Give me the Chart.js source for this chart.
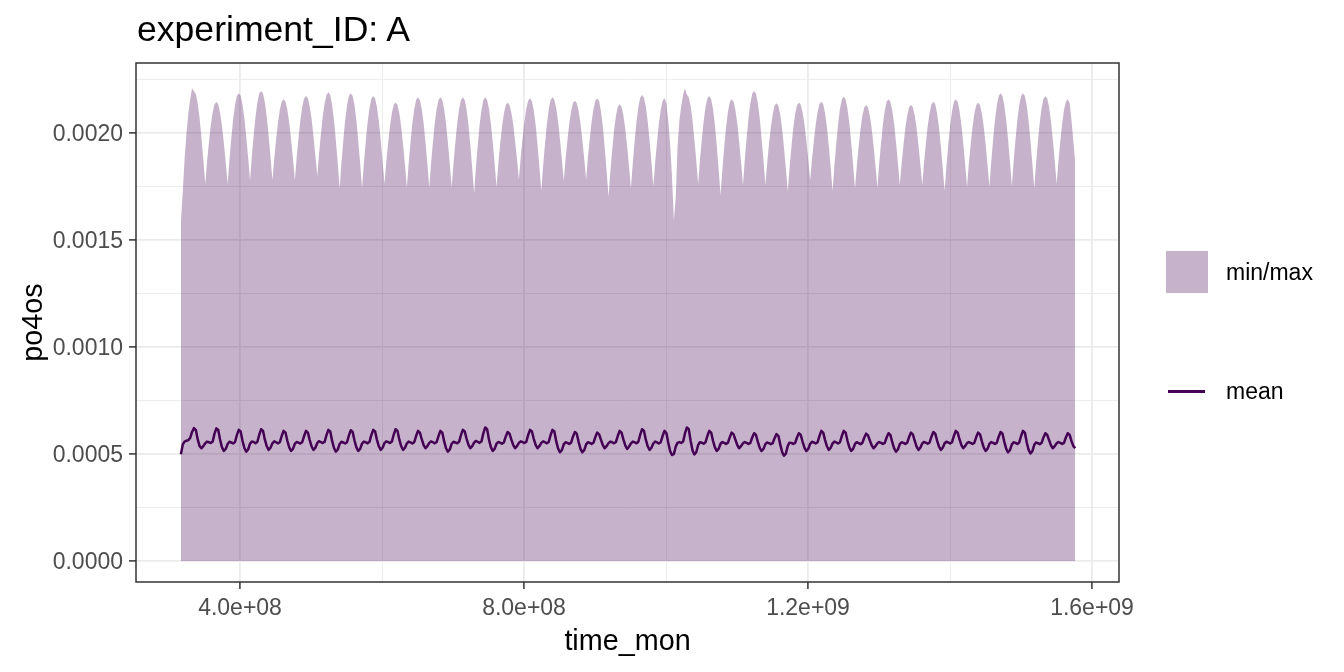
<!DOCTYPE html>
<html>
<head>
<meta charset="utf-8">
<script src="https://cdn.jsdelivr.net/npm/chart.js@4.4.0/dist/chart.umd.min.js"></script>
<style>
  body { margin: 0; background: #fff; }
  #wrap { position: relative; width: 1344px; height: 672px; font-family: "Liberation Sans", Arial, sans-serif; }
  #title { position: absolute; left: 137px; top: 12px; font-size: 35.6px; line-height: 1; color: #000; white-space: nowrap; }
  .key-box { position: absolute; left: 1166px; top: 251px; width: 42px; height: 42px; background: rgba(68, 1, 84, 0.3); }
  .key-line { position: absolute; left: 1168px; top: 390px; width: 37px; height: 2.5px; background: #440154; }
  .key-text { position: absolute; left: 1226px; font-size: 23px; line-height: 1; color: #000; white-space: nowrap; }
</style>
</head>
<body>
<div id="wrap">
  <canvas id="chart" width="1344" height="672"></canvas>
  <div id="title">experiment_ID: A</div>
  <div class="key-box"></div>
  <div class="key-text" style="top:261px">min/max</div>
  <div class="key-line"></div>
  <div class="key-text" style="top:380px">mean</div>
</div>
<script>
// monthly time axis, seconds since 1970 (mid-month), Jan 1980 .. Dec 2019
const time_mon = [];
for (let yr = 1980; yr < 2020; yr++) {
  for (let m = 0; m < 12; m++) time_mon.push(Date.UTC(yr, m, 15) / 1000);
}

// ribbon lower edge (min) is zero throughout
const po4os_min = 0;

// ribbon upper edge (max), one row per year
const po4os_max = [
  0.001584, 0.001730, 0.001880, 0.002000, 0.002090, 0.002160, 0.002209, 0.002195, 0.002182, 0.002139, 0.002069, 0.001979,
  0.001875, 0.001762, 0.001862, 0.001954, 0.002034, 0.002095, 0.002134, 0.002145, 0.002134, 0.002095, 0.002034, 0.001954,
  0.001862, 0.001762, 0.001872, 0.001974, 0.002063, 0.002131, 0.002173, 0.002186, 0.002174, 0.002133, 0.002068, 0.001983,
  0.001886, 0.001780, 0.001888, 0.001988, 0.002075, 0.002142, 0.002184, 0.002196, 0.002184, 0.002142, 0.002075, 0.001988,
  0.001888, 0.001780, 0.001878, 0.001969, 0.002048, 0.002109, 0.002147, 0.002158, 0.002147, 0.002109, 0.002048, 0.001969,
  0.001878, 0.001780, 0.001882, 0.001977, 0.002059, 0.002122, 0.002161, 0.002173, 0.002162, 0.002124, 0.002065, 0.001986,
  0.001896, 0.001799, 0.001901, 0.001995, 0.002077, 0.002139, 0.002178, 0.002190, 0.002177, 0.002132, 0.002060, 0.001966,
  0.001858, 0.001742, 0.001857, 0.001964, 0.002057, 0.002128, 0.002173, 0.002186, 0.002173, 0.002129, 0.002058, 0.001965,
  0.001859, 0.001744, 0.001856, 0.001959, 0.002049, 0.002117, 0.002160, 0.002173, 0.002161, 0.002120, 0.002054, 0.001968,
  0.001869, 0.001762, 0.001861, 0.001953, 0.002033, 0.002093, 0.002132, 0.002143, 0.002131, 0.002091, 0.002028, 0.001945,
  0.001849, 0.001746, 0.001855, 0.001957, 0.002045, 0.002112, 0.002154, 0.002167, 0.002154, 0.002112, 0.002045, 0.001957,
  0.001855, 0.001746, 0.001855, 0.001957, 0.002045, 0.002112, 0.002154, 0.002167, 0.002154, 0.002112, 0.002045, 0.001957,
  0.001855, 0.001746, 0.001855, 0.001957, 0.002045, 0.002112, 0.002154, 0.002167, 0.002154, 0.002109, 0.002037, 0.001943,
  0.001835, 0.001718, 0.001835, 0.001943, 0.002037, 0.002109, 0.002154, 0.002167, 0.002154, 0.002113, 0.002046, 0.001958,
  0.001858, 0.001749, 0.001851, 0.001946, 0.002028, 0.002091, 0.002130, 0.002142, 0.002131, 0.002095, 0.002038, 0.001963,
  0.001877, 0.001784, 0.001882, 0.001973, 0.002052, 0.002113, 0.002151, 0.002162, 0.002149, 0.002106, 0.002037, 0.001946,
  0.001842, 0.001730, 0.001844, 0.001949, 0.002040, 0.002110, 0.002154, 0.002167, 0.002155, 0.002116, 0.002054, 0.001972,
  0.001878, 0.001777, 0.001874, 0.001964, 0.002043, 0.002102, 0.002140, 0.002151, 0.002140, 0.002103, 0.002045, 0.001968,
  0.001879, 0.001784, 0.001882, 0.001973, 0.002052, 0.002113, 0.002151, 0.002162, 0.002148, 0.002102, 0.002029, 0.001932,
  0.001822, 0.001702, 0.001814, 0.001918, 0.002009, 0.002078, 0.002121, 0.002134, 0.002122, 0.002083, 0.002020, 0.001938,
  0.001844, 0.001742, 0.001855, 0.001960, 0.002052, 0.002121, 0.002165, 0.002178, 0.002165, 0.002123, 0.002054, 0.001965,
  0.001863, 0.001752, 0.001859, 0.001957, 0.002043, 0.002109, 0.002150, 0.002162, 0.002140, 0.002060, 0.001950, 0.001800,
  0.001593, 0.001702, 0.001930, 0.002060, 0.002125, 0.002180, 0.002209, 0.002180, 0.002167, 0.002126, 0.002059, 0.001971,
  0.001871, 0.001762, 0.001869, 0.001968, 0.002054, 0.002120, 0.002161, 0.002173, 0.002159, 0.002113, 0.002039, 0.001942,
  0.001830, 0.001710, 0.001826, 0.001934, 0.002028, 0.002100, 0.002145, 0.002158, 0.002146, 0.002106, 0.002042, 0.001958,
  0.001861, 0.001757, 0.001871, 0.001977, 0.002069, 0.002139, 0.002183, 0.002196, 0.002183, 0.002139, 0.002069, 0.001977,
  0.001871, 0.001757, 0.001856, 0.001948, 0.002028, 0.002089, 0.002128, 0.002139, 0.002127, 0.002085, 0.002019, 0.001933,
  0.001833, 0.001726, 0.001834, 0.001935, 0.002022, 0.002089, 0.002130, 0.002143, 0.002132, 0.002096, 0.002038, 0.001962,
  0.001874, 0.001780, 0.001875, 0.001963, 0.002040, 0.002098, 0.002135, 0.002146, 0.002134, 0.002092, 0.002025, 0.001938,
  0.001838, 0.001730, 0.001844, 0.001950, 0.002042, 0.002113, 0.002157, 0.002170, 0.002157, 0.002114, 0.002045, 0.001955,
  0.001852, 0.001740, 0.001842, 0.001936, 0.002018, 0.002080, 0.002119, 0.002131, 0.002119, 0.002081, 0.002019, 0.001939,
  0.001846, 0.001746, 0.001853, 0.001952, 0.002039, 0.002104, 0.002146, 0.002158, 0.002146, 0.002106, 0.002042, 0.001958,
  0.001861, 0.001757, 0.001854, 0.001944, 0.002023, 0.002082, 0.002120, 0.002131, 0.002120, 0.002082, 0.002023, 0.001944,
  0.001854, 0.001757, 0.001858, 0.001952, 0.002033, 0.002095, 0.002134, 0.002146, 0.002134, 0.002092, 0.002025, 0.001938,
  0.001838, 0.001730, 0.001841, 0.001944, 0.002034, 0.002102, 0.002145, 0.002158, 0.002146, 0.002105, 0.002039, 0.001954,
  0.001855, 0.001749, 0.001851, 0.001946, 0.002028, 0.002091, 0.002130, 0.002142, 0.002130, 0.002091, 0.002028, 0.001946,
  0.001851, 0.001749, 0.001863, 0.001968, 0.002059, 0.002129, 0.002173, 0.002186, 0.002173, 0.002130, 0.002060, 0.001969,
  0.001865, 0.001752, 0.001865, 0.001969, 0.002060, 0.002130, 0.002173, 0.002186, 0.002173, 0.002128, 0.002057, 0.001964,
  0.001857, 0.001742, 0.001854, 0.001958, 0.002048, 0.002117, 0.002160, 0.002173, 0.002161, 0.002120, 0.002054, 0.001968,
  0.001869, 0.001762, 0.001865, 0.001960, 0.002043, 0.002107, 0.002146, 0.002158, 0.002140, 0.002060, 0.001960, 0.001860
];

// mean line, one row per year
const po4os_mean = [
  0.000499, 0.000545, 0.000558, 0.000562, 0.000565, 0.000575, 0.000603, 0.000621, 0.000612, 0.000568, 0.000537, 0.000527,
  0.000537, 0.000550, 0.000558, 0.000555, 0.000551, 0.000558, 0.000594, 0.000620, 0.000612, 0.000566, 0.000531, 0.000514,
  0.000524, 0.000547, 0.000557, 0.000554, 0.000549, 0.000556, 0.000588, 0.000613, 0.000605, 0.000562, 0.000528, 0.000511,
  0.000521, 0.000548, 0.000558, 0.000556, 0.000550, 0.000557, 0.000590, 0.000616, 0.000608, 0.000567, 0.000536, 0.000519,
  0.000529, 0.000550, 0.000559, 0.000555, 0.000550, 0.000555, 0.000584, 0.000608, 0.000600, 0.000562, 0.000531, 0.000514,
  0.000524, 0.000548, 0.000556, 0.000553, 0.000549, 0.000556, 0.000584, 0.000608, 0.000600, 0.000565, 0.000535, 0.000519,
  0.000529, 0.000551, 0.000560, 0.000556, 0.000551, 0.000557, 0.000588, 0.000613, 0.000605, 0.000561, 0.000528, 0.000511,
  0.000521, 0.000547, 0.000557, 0.000554, 0.000549, 0.000555, 0.000586, 0.000611, 0.000603, 0.000563, 0.000531, 0.000514,
  0.000524, 0.000549, 0.000558, 0.000555, 0.000550, 0.000557, 0.000588, 0.000613, 0.000605, 0.000566, 0.000536, 0.000519,
  0.000529, 0.000551, 0.000559, 0.000556, 0.000551, 0.000558, 0.000590, 0.000616, 0.000608, 0.000567, 0.000536, 0.000519,
  0.000529, 0.000550, 0.000558, 0.000554, 0.000549, 0.000556, 0.000584, 0.000608, 0.000600, 0.000569, 0.000542, 0.000527,
  0.000537, 0.000552, 0.000559, 0.000555, 0.000550, 0.000556, 0.000584, 0.000608, 0.000600, 0.000560, 0.000527, 0.000511,
  0.000521, 0.000548, 0.000557, 0.000554, 0.000550, 0.000557, 0.000588, 0.000613, 0.000605, 0.000571, 0.000543, 0.000527,
  0.000537, 0.000553, 0.000561, 0.000557, 0.000552, 0.000559, 0.000596, 0.000624, 0.000616, 0.000567, 0.000532, 0.000514,
  0.000524, 0.000548, 0.000556, 0.000553, 0.000548, 0.000554, 0.000581, 0.000603, 0.000595, 0.000567, 0.000542, 0.000527,
  0.000537, 0.000552, 0.000559, 0.000556, 0.000551, 0.000557, 0.000588, 0.000613, 0.000605, 0.000571, 0.000543, 0.000527,
  0.000537, 0.000552, 0.000559, 0.000555, 0.000550, 0.000556, 0.000588, 0.000613, 0.000605, 0.000560, 0.000525, 0.000508,
  0.000518, 0.000545, 0.000555, 0.000552, 0.000547, 0.000553, 0.000581, 0.000603, 0.000595, 0.000557, 0.000524, 0.000508,
  0.000518, 0.000545, 0.000555, 0.000552, 0.000547, 0.000553, 0.000579, 0.000600, 0.000592, 0.000566, 0.000541, 0.000527,
  0.000537, 0.000551, 0.000558, 0.000555, 0.000550, 0.000556, 0.000584, 0.000608, 0.000600, 0.000568, 0.000540, 0.000524,
  0.000534, 0.000550, 0.000558, 0.000555, 0.000550, 0.000557, 0.000590, 0.000616, 0.000608, 0.000567, 0.000536, 0.000519,
  0.000529, 0.000550, 0.000558, 0.000554, 0.000549, 0.000555, 0.000584, 0.000608, 0.000598, 0.000554, 0.000514, 0.000495,
  0.000500, 0.000535, 0.000552, 0.000556, 0.000552, 0.000558, 0.000596, 0.000624, 0.000616, 0.000562, 0.000517, 0.000498,
  0.000508, 0.000542, 0.000555, 0.000553, 0.000548, 0.000555, 0.000584, 0.000608, 0.000600, 0.000562, 0.000531, 0.000514,
  0.000524, 0.000548, 0.000556, 0.000552, 0.000547, 0.000553, 0.000579, 0.000600, 0.000592, 0.000566, 0.000541, 0.000527,
  0.000537, 0.000550, 0.000556, 0.000552, 0.000547, 0.000552, 0.000577, 0.000597, 0.000589, 0.000557, 0.000529, 0.000514,
  0.000524, 0.000546, 0.000554, 0.000551, 0.000546, 0.000551, 0.000574, 0.000593, 0.000585, 0.000545, 0.000509, 0.000492,
  0.000502, 0.000538, 0.000553, 0.000552, 0.000547, 0.000552, 0.000577, 0.000597, 0.000589, 0.000557, 0.000529, 0.000514,
  0.000524, 0.000548, 0.000557, 0.000554, 0.000549, 0.000555, 0.000584, 0.000608, 0.000600, 0.000565, 0.000535, 0.000519,
  0.000529, 0.000550, 0.000558, 0.000554, 0.000549, 0.000555, 0.000584, 0.000608, 0.000600, 0.000562, 0.000531, 0.000514,
  0.000524, 0.000547, 0.000555, 0.000551, 0.000546, 0.000552, 0.000576, 0.000595, 0.000587, 0.000563, 0.000540, 0.000527,
  0.000537, 0.000550, 0.000556, 0.000552, 0.000547, 0.000552, 0.000577, 0.000597, 0.000589, 0.000555, 0.000526, 0.000511,
  0.000521, 0.000546, 0.000555, 0.000552, 0.000547, 0.000553, 0.000579, 0.000600, 0.000592, 0.000562, 0.000534, 0.000519,
  0.000529, 0.000549, 0.000556, 0.000553, 0.000548, 0.000554, 0.000581, 0.000603, 0.000595, 0.000563, 0.000534, 0.000519,
  0.000529, 0.000550, 0.000557, 0.000554, 0.000549, 0.000555, 0.000584, 0.000608, 0.000600, 0.000569, 0.000542, 0.000527,
  0.000537, 0.000551, 0.000556, 0.000552, 0.000547, 0.000553, 0.000579, 0.000600, 0.000592, 0.000559, 0.000530, 0.000514,
  0.000524, 0.000547, 0.000556, 0.000552, 0.000547, 0.000553, 0.000581, 0.000603, 0.000595, 0.000557, 0.000524, 0.000508,
  0.000518, 0.000545, 0.000555, 0.000552, 0.000547, 0.000554, 0.000584, 0.000608, 0.000600, 0.000555, 0.000519, 0.000503,
  0.000513, 0.000543, 0.000554, 0.000551, 0.000546, 0.000552, 0.000577, 0.000597, 0.000589, 0.000564, 0.000540, 0.000527,
  0.000537, 0.000550, 0.000556, 0.000552, 0.000547, 0.000552, 0.000577, 0.000597, 0.000589, 0.000560, 0.000537, 0.000527
];

// axis limits and tick values (major ticks carry labels, the rest are minor grid lines)
const xLimits = [2.535e8, 1.638e9];
const xTicks = [4e8, 6e8, 8e8, 1.0e9, 1.2e9, 1.4e9, 1.6e9];
const xMajor = [4e8, 8e8, 1.2e9, 1.6e9];
const yLimits = [-0.0000981, 0.002327];
const yTicks = [0, 0.00025, 0.0005, 0.00075, 0.001, 0.00125, 0.0015, 0.00175, 0.002, 0.00225];
const yMajor = [0, 0.0005, 0.001, 0.0015, 0.002];

const FONT = '"Liberation Sans", Arial, sans-serif';

function isMajorX(v) { return xMajor.some(m => Math.abs(m - v) < 1); }
function isMajorY(v) { return yMajor.some(m => Math.abs(m - v) < 1e-9); }

function sci(v) {
  const e = Math.floor(Math.log10(v) + 1e-9);
  const m = v / Math.pow(10, e);
  return m.toFixed(1) + 'e+' + String(e).padStart(2, '0');
}

const panelBorder = {
  id: 'panelBorder',
  afterDraw(chart) {
    const { ctx, chartArea: a } = chart;
    ctx.save();
    ctx.strokeStyle = '#333333';
    ctx.lineWidth = 1.5;
    ctx.strokeRect(a.left, a.top, a.right - a.left, a.bottom - a.top);
    ctx.restore();
  }
};

const maxPts = time_mon.map((t, i) => ({ x: t, y: po4os_max[i] }));
const meanPts = time_mon.map((t, i) => ({ x: t, y: po4os_mean[i] }));

const ctx = document.getElementById('chart').getContext('2d');
new Chart(ctx, {
  type: 'line',
  data: {
    datasets: [
      {
        label: 'mean',
        data: meanPts,
        borderColor: '#440154',
        borderWidth: 2.5,
        borderJoinStyle: 'round',
        pointRadius: 0,
        fill: false,
        tension: 0,
        order: 0
      },
      {
        label: 'min/max',
        data: maxPts,
        borderWidth: 0,
        borderColor: 'rgba(0,0,0,0)',
        backgroundColor: 'rgba(68, 1, 84, 0.3)',
        pointRadius: 0,
        fill: { value: po4os_min },
        tension: 0,
        order: 1
      }
    ]
  },
  options: {
    responsive: false,
    animation: false,
    events: [],
    layout: { padding: { left: 0, top: 63, right: 225, bottom: 0 } },
    plugins: { legend: { display: false }, tooltip: { enabled: false } },
    scales: {
      x: {
        type: 'linear',
        min: xLimits[0],
        max: xLimits[1],
        afterFit(s) { s.height = 90; },
        afterBuildTicks(s) { s.ticks = xTicks.map(v => ({ value: v })); },
        border: { display: false },
        grid: {
          color: '#EBEBEB',
          lineWidth: c => isMajorX(c.tick.value) ? 1.8 : 0.9,
          tickColor: c => isMajorX(c.tick.value) ? '#333333' : 'rgba(0,0,0,0)',
          tickLength: 7,
          tickWidth: 1.5
        },
        ticks: {
          autoSkip: false,
          maxRotation: 0,
          padding: 6,
          color: '#4D4D4D',
          font: { family: FONT, size: 23 },
          callback: v => isMajorX(v) ? sci(v) : ''
        },
        title: {
          display: true,
          text: 'time_mon',
          color: '#000',
          font: { family: FONT, size: 28.75 },
          padding: { top: 0, bottom: 13 }
        }
      },
      y: {
        type: 'linear',
        min: yLimits[0],
        max: yLimits[1],
        afterFit(s) { s.width = 136; },
        afterBuildTicks(s) { s.ticks = yTicks.map(v => ({ value: v })); },
        border: { display: false },
        grid: {
          color: '#EBEBEB',
          lineWidth: c => isMajorY(c.tick.value) ? 1.8 : 0.9,
          tickColor: c => isMajorY(c.tick.value) ? '#333333' : 'rgba(0,0,0,0)',
          tickLength: 7,
          tickWidth: 1.5
        },
        ticks: {
          autoSkip: false,
          padding: 6,
          labelOffset: 2,
          color: '#4D4D4D',
          font: { family: FONT, size: 23 },
          callback: v => isMajorY(v) ? v.toFixed(4) : ''
        },
        title: {
          display: true,
          text: 'po4os',
          color: '#000',
          font: { family: FONT, size: 28.75 },
          padding: { top: 17, bottom: 0 }
        }
      }
    }
  },
  plugins: [panelBorder]
});
</script>
</body>
</html>
